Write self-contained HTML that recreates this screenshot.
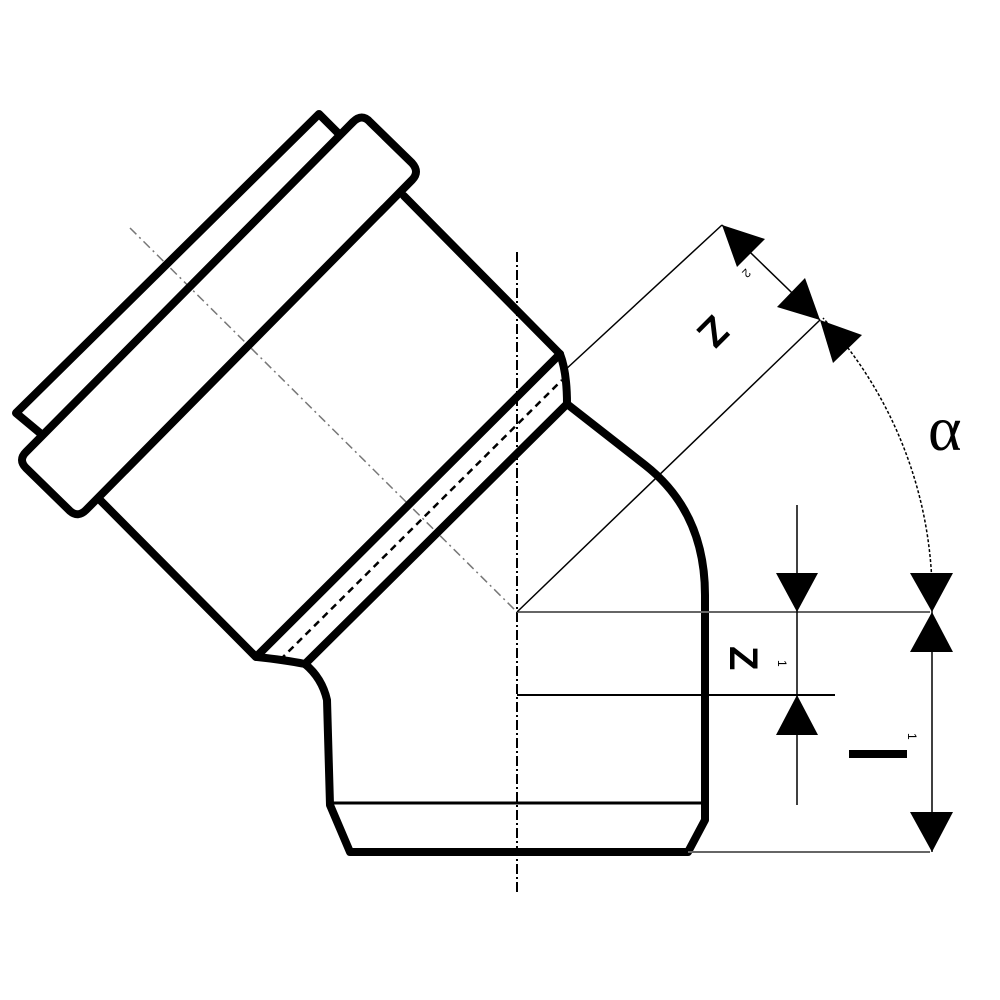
<!DOCTYPE html>
<html><head><style>html,body{margin:0;padding:0;background:#fff}svg{display:block}</style></head>
<body>
<svg width="1000" height="1000" viewBox="0 0 1000 1000" xmlns="http://www.w3.org/2000/svg">
<rect width="1000" height="1000" fill="#fff"/>
<line x1="517" y1="252" x2="517" y2="895" stroke="#000" stroke-width="2" stroke-dasharray="10,3,2,3"/>
<line x1="130" y1="228" x2="517" y2="612" stroke="#777" stroke-width="1.5" stroke-dasharray="9,4,2,4"/>
<g fill="none" stroke="#000" stroke-width="8" stroke-linejoin="round" stroke-linecap="round">
  <path d="M40,433 L16,413 L319,114 L338,133"/>
  <path d="M370,122 L412,163 Q420,172 412,180 L86,510 Q78,518 70,511 L26,468 Q18,460 26,452 L353,122 Q362,113 370,122 Z"/>
  <line x1="404" y1="196" x2="560" y2="354"/>
  <line x1="100" y1="500" x2="256" y2="657"/>
  <line x1="257" y1="656" x2="560" y2="354"/>
  <line x1="305" y1="664" x2="567" y2="404"/>
  <path d="M560,354 Q567,372 567,404"/>
  <path d="M257,657 Q285,660 305,664"/>
  <path d="M567,404 L645,465 Q705,512 705,595 L705,820 L688,852 L350,852 L330,805 L327,700 Q322,678 305,664"/>
</g>
<line x1="330" y1="803" x2="705" y2="803" stroke="#000" stroke-width="3"/>
<line x1="280" y1="660" x2="562" y2="380" stroke="#000" stroke-width="2.5" stroke-dasharray="7,5"/>
<g stroke="#000" stroke-width="1.5" fill="none">
  <line x1="517" y1="612" x2="930" y2="612" stroke="#666" stroke-width="2"/>
  <line x1="517" y1="695" x2="835" y2="695" stroke-width="2"/>
  <line x1="688" y1="852" x2="930" y2="852" stroke="#666" stroke-width="2"/>
  <line x1="517" y1="612" x2="820" y2="320"/>
  <line x1="564" y1="371" x2="722" y2="225"/>
  <line x1="722" y1="225" x2="820" y2="320"/>
  <line x1="797" y1="505" x2="797" y2="805"/>
  <line x1="932" y1="612" x2="932" y2="852"/>
  <path d="M932,612 A415,415 0 0 0 823,318" stroke-dasharray="3,2"/>
</g>
<g fill="#000">
  <polygon points="776,573 818,573 797,612"/>
  <polygon points="776,735 818,735 797,695"/>
  <polygon points="910,573 953,573 932,612"/>
  <polygon points="910,652 953,652 932,612"/>
  <polygon points="910,812 953,812 932,852"/>
  <polygon points="722,225 737,267 765,239"/>
  <polygon points="820,320 777,307 805,278"/>
  <polygon points="820,320 862,335 833,363"/>
</g>
<text x="928" y="450" font-family="Liberation Serif, serif" font-size="64" fill="#000">α</text>
<g font-family="Liberation Sans, sans-serif" fill="#000">
  <text transform="translate(730,646) rotate(90)" font-size="40" font-weight="bold">Z</text>
  <text transform="translate(778,660) rotate(90)" font-size="12">1</text>
  <text transform="translate(704,322) rotate(135)" font-size="40" font-weight="bold" text-anchor="middle">Z</text>
  <text transform="translate(746,268) rotate(135)" font-size="12">2</text>
</g>
<rect x="849" y="750" width="58" height="8" fill="#000"/>
<text transform="translate(908,733) rotate(90)" font-family="Liberation Sans, sans-serif" font-size="12" fill="#000">1</text>
</svg>
</body></html>
